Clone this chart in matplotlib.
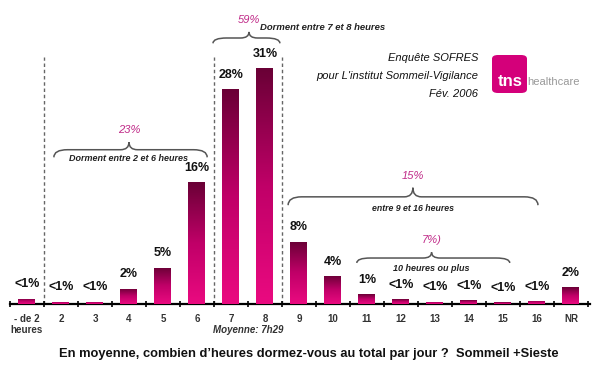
import matplotlib
matplotlib.use('Agg')
import matplotlib.pyplot as plt
import numpy as np
from matplotlib.colors import LinearSegmentedColormap
from matplotlib.path import Path
from matplotlib.patches import PathPatch, FancyBboxPatch

plt.rcParams['font.family'] = ['Liberation Sans', 'DejaVu Sans']

# data
categories = ['- de 2\nheures', '2', '3', '4', '5', '6', '7', '8', '9', '10',
              '11', '12', '13', '14', '15', '16', 'NR']
values = [0.7, 0.3, 0.3, 2, 4.8, 16, 28.3, 31, 8.2, 3.7,
          1.3, 0.6, 0.3, 0.5, 0.2, 0.4, 2.2]
labels = ['<1%', '<1%', '<1%', '2%', '5%', '16%', '28%', '31%', '8%', '4%',
          '1%', '<1%', '<1%', '<1%', '<1%', '<1%', '2%']

# groups: (first, last, total, caption)
groups = [
    (1, 5, '23%', 'Dorment entre 2 et 6 heures'),
    (6, 7, '59%', 'Dorment entre 7 et 8 heures'),
    (8, 15, '15%', 'entre 9 et 16 heures'),
    (10, 15, '7%)', '10 heures ou plus'),
]

fig = plt.figure(figsize=(6, 3.78), dpi=100)
ax = fig.add_axes([10 / 600, 74 / 378, 580 / 600, 304 / 378])

x = np.arange(len(categories))
bars = ax.bar(x, values, width=0.5, color='#a0005a', zorder=2)

# vertical gradient inside each bar (dark top, bright bottom)
cmap = LinearSegmentedColormap.from_list('tns', ['#ea0a80', '#c00068', '#6a0036'])
grad = np.linspace(0, 1, 100).reshape(-1, 1)
for b in bars:
    x0, y0 = b.get_xy()
    im = ax.imshow(grad, extent=(x0, x0 + b.get_width(), y0, y0 + b.get_height()),
                   origin='lower', cmap=cmap, aspect='auto', zorder=3)
    im.set_clip_path(b)

for xi, v, lab in zip(x, values, labels):
    ax.annotate(lab, (xi, v), xytext=(0, 6), textcoords='offset points',
                ha='center', va='bottom', fontsize=9, fontweight='bold', color='#111')

ax.set_xlim(-0.5, 16.56)
ax.set_ylim(0, 40)

# dotted separators
ax.vlines([0.5, 5.5, 7.5], 0, 32.5, colors='#666', linestyles=(0, (2.5, 2)), lw=1, zorder=1)


def brace(ax, x0, x1, xm, y_end, y_flat, y_peak, r=0.4, rm=0.25):
    verts = [(x0, y_end), (x0, y_flat), (x0 + r, y_flat),
             (xm - rm, y_flat), (xm, y_flat), (xm, y_peak),
             (xm, y_flat), (xm + rm, y_flat),
             (x1 - r, y_flat), (x1, y_flat), (x1, y_end)]
    codes = [Path.MOVETO, Path.CURVE3, Path.CURVE3,
             Path.LINETO, Path.CURVE3, Path.CURVE3,
             Path.CURVE3, Path.CURVE3,
             Path.LINETO, Path.CURVE3, Path.CURVE3]
    ax.add_patch(PathPatch(Path(verts, codes), fill=False, ec='#555', lw=1.1,
                           clip_on=False, zorder=4))


# brace geometry (data units) for each group
brace_geo = [
    (0.79, 5.3, 3.0, 19.3, 20.3, 21.3),
    (5.47, 7.44, 6.53, 34.3, 35.0, 35.8),
    (7.68, 15.03, 11.35, 13.0, 14.1, 15.3),
    (9.7, 14.2, 11.9, 5.4, 6.05, 6.8),
]
for (i0, i1, tot, cap), (bx0, bx1, bxm, ye, yf, yp) in zip(groups, brace_geo):
    brace(ax, bx0, bx1, bxm, ye, yf, yp)
    ax.text(bxm, yp + 1.6, tot, ha='center', va='center', fontsize=8,
            style='italic', color='#c02a88', clip_on=False)

ax.text(3.0, 19.2, groups[0][3], ha='center', va='center', fontsize=6.5,
        style='italic', fontweight='bold', color='#222')
ax.text(6.85, 36.4, groups[1][3], ha='left', va='center', fontsize=6.8,
        style='italic', fontweight='bold', color='#222')
ax.text(11.35, 12.6, groups[2][3], ha='center', va='center', fontsize=6.3,
        style='italic', fontweight='bold', color='#222')
ax.text(11.9, 4.7, groups[3][3], ha='center', va='center', fontsize=6.5,
        style='italic', fontweight='bold', color='#222')

# axis styling
for s in ['top', 'right', 'left']:
    ax.spines[s].set_visible(False)
ax.spines['bottom'].set_linewidth(1.6)
ax.set_yticks([])
ax.set_xticks(x)
ax.set_xticklabels(categories, fontsize=7, fontweight='bold', color='#333')
ax.tick_params(axis='x', which='major', length=0, pad=7)
ax.set_xticks(np.arange(-0.5, 17, 1), minor=True)
ax.tick_params(axis='x', which='minor', length=4, width=1.2, direction='inout')

ax.text(6.5, -3.4, 'Moyenne: 7h29', ha='center', va='center', fontsize=7,
        style='italic', fontweight='bold', color='#333', clip_on=False)

fig.text(0.515, 1 - 354 / 378,
         "En moyenne, combien d\u2019heures dormez-vous au total par jour ?  Sommeil +Sieste",
         ha='center', va='center', fontsize=9.3, fontweight='bold', color='#111')

# survey note
for txt, yy in [('Enquête SOFRES', 58), ("pour L'institut Sommeil-Vigilance", 76),
                ('Fév. 2006', 94)]:
    fig.text(478 / 600, 1 - yy / 378, txt, ha='right', va='center', fontsize=8,
             style='italic', color='#111')

# logo
logo = FancyBboxPatch((492 / 600, 1 - 93 / 378), 35 / 600, 38 / 378,
                      boxstyle='round,pad=0,rounding_size=0.01',
                      transform=fig.transFigure, fc='#d4007a', ec='none')
fig.patches.append(logo)
fig.text(510 / 600, 1 - 81 / 378, 'tns', ha='center', va='center', fontsize=12,
         fontweight='bold', color='white')
fig.text(527 / 600, 1 - 82 / 378, 'healthcare', ha='left', va='center',
         fontsize=8, color='#999')

fig.savefig('out.png', dpi=100)
